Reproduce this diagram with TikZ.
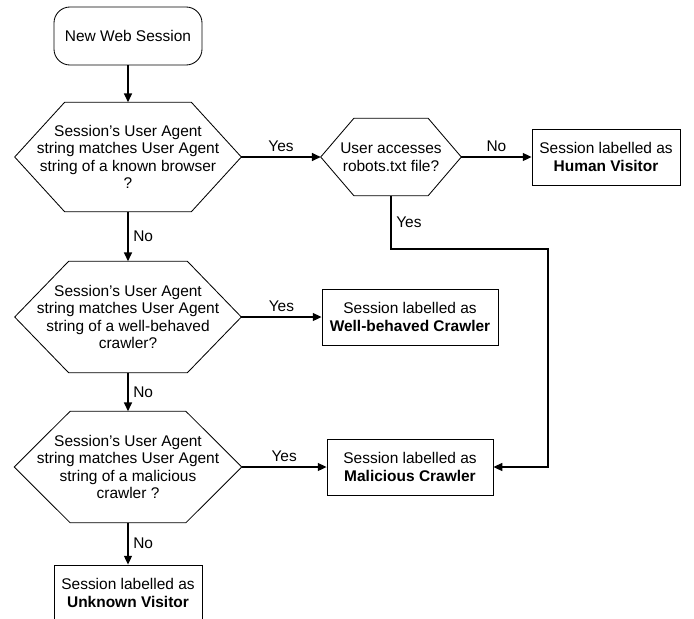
\documentclass[tikz,border=0pt]{standalone}
\usepackage{fontspec}
\setmainfont{Liberation Sans}
\usepackage{tikz}
\usetikzlibrary{positioning}
\usetikzlibrary{arrows.meta}

\begin{document}
\begin{tikzpicture}[x=0.025cm, y=-0.025cm,
  font=\fontsize{11}{12.5}\selectfont,
  arr/.style={-{Triangle[length=2.2mm,width=2mm]}, color=black, line width=.3mm},
  endbox/.style={draw, line width=.6pt, align=center, minimum width=#1, minimum height=1.4cm},
  hexbox/.style={align=center, inner sep=0pt,
    append after command={\pgfextra{\draw[line width=.6pt] (\tikzlastnode.west)
      -- ([xshift=#1]\tikzlastnode.north west) -- ([xshift=-#1]\tikzlastnode.north east)
      -- (\tikzlastnode.east) -- ([xshift=-#1]\tikzlastnode.south east)
      -- ([xshift=#1]\tikzlastnode.south west) -- cycle;}}}]
\useasboundingbox (0,0) rectangle (694,618);

\node(s)[draw, rounded corners=.4cm, line width=.6pt, minimum width=3.7cm, minimum height=1.45cm] at (128,36) {New Web Session};
\node(q1)[hexbox=1.25cm, minimum width=5.65cm, minimum height=2.725cm] at (128,157) {Session’s User Agent\\string matches User Agent\\string of a known browser\\?};
\node(r)[hexbox=.83cm, minimum width=3.5cm, minimum height=1.925cm] at (391,157) {User accesses\\robots.txt file?};
\node(h)[endbox=3.7cm] at (606,157) {Session labelled as\\\textbf{Human Visitor}};
\node(q2)[hexbox=1.35cm, minimum width=5.65cm, minimum height=2.775cm] at (128,317) {Session’s User Agent\\string matches User Agent\\string of a well-behaved\\crawler?};
\node(w)[endbox=4.4cm] at (410,317) {Session labelled as\\\textbf{Well-behaved Crawler}};
\node(q3)[hexbox=1.4cm, minimum width=5.675cm, minimum height=2.775cm] at (128,467) {Session’s User Agent\\string matches User Agent\\string of a malicious\\crawler ?};
\node(m)[endbox=4.15cm] at (410,467) {Session labelled as\\\textbf{Malicious Crawler}};
\node(u)[endbox=3.7cm] at (128,593) {Session labelled as\\\textbf{Unknown Visitor}};
\coordinate(t) at (548,249);

\draw[arr] (s.south)--(q1.north);
\draw[arr] (q1.east)--(r.west) node[midway, above]{Yes};
\draw[arr] (r.east)--(h.west) node[midway, above]{No};
\draw[arr] (r.south) |- node[pos=.25, right]{Yes} (t) |- (m.east);
\draw[arr] (q1.south)--(q2.north) node[midway, right]{No};
\draw[arr] (q2.east)--(w.west) node[midway, above]{Yes};
\draw[arr] (q2.south)--(q3.north) node[midway, right]{No};
\draw[arr] (q3.east)--(m.west) node[midway, above]{Yes};
\draw[arr] (q3.south)--(u.north) node[midway, right]{No};
\end{tikzpicture}
\end{document}
